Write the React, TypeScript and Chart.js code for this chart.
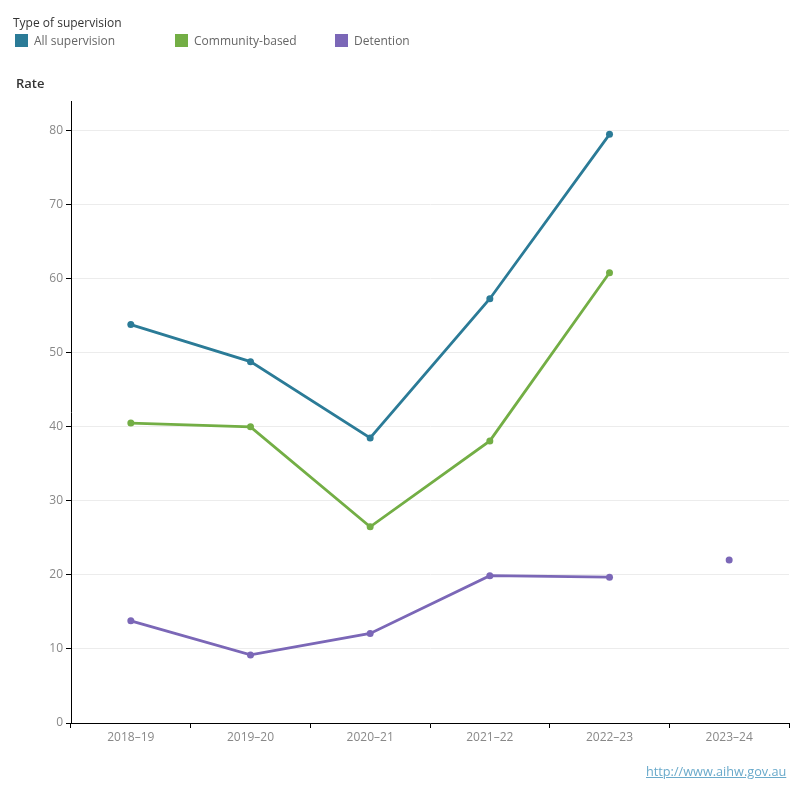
import React, { useEffect, useRef } from "react";
import { Chart, registerables } from "chart.js";

Chart.register(...registerables);

const years = ["2018–19", "2019–20", "2020–21", "2021–22", "2022–23", "2023–24"];
const allSupervision = [53.8, 48.8, 38.5, 57.3, 79.5, null];
const communityBased = [40.5, 40.0, 26.5, 38.1, 60.8, null];
const detention = [13.8, 9.2, 12.1, 19.9, 19.7, 22.0];
const yTicks = [0, 10, 20, 30, 40, 50, 60, 70, 80];

const seriesNames = ["All supervision", "Community-based", "Detention"];
const seriesColors = ["#2b7b97", "#73ae45", "#7b67b7"];

const FONT = "'Open Sans', 'Noto Sans', sans-serif";

export default function App() {
  const canvasRef = useRef<HTMLCanvasElement | null>(null);

  useEffect(() => {
    const canvas = canvasRef.current;
    if (!canvas) return;
    // Detention has a break before 2023–24: the last point is drawn on its own
    const mk = (label: string, data: (number | null)[], color: string, breakAt?: number) => ({
      label,
      data,
      borderColor: color,
      backgroundColor: color,
      borderWidth: 2.8,
      pointRadius: 3.5,
      pointHoverRadius: 3.5,
      pointBorderWidth: 0,
      tension: 0,
      spanGaps: false,
      segment: breakAt !== undefined
        ? { borderColor: (ctx: any) => (ctx.p1DataIndex === breakAt ? "rgba(0,0,0,0)" : color) }
        : undefined,
    });
    const chart = new Chart(canvas, {
      type: "line",
      data: {
        labels: years,
        datasets: [
          mk(seriesNames[0], allSupervision, seriesColors[0]),
          mk(seriesNames[1], communityBased, seriesColors[1]),
          mk(seriesNames[2], detention, seriesColors[2], 5),
        ],
      },
      options: {
        animation: false,
        responsive: false,
        maintainAspectRatio: false,
        layout: { padding: { top: 101, right: 11, left: 0, bottom: 0 } },
        plugins: { legend: { display: false }, tooltip: { enabled: false } },
        scales: {
          x: {
            offset: true,
            grid: {
              offset: true,
              drawOnChartArea: false,
              tickLength: 5,
              tickColor: "#000",
            },
            border: { color: "#000", width: 1 },
            ticks: {
              color: "#888",
              font: { family: FONT, size: 12 },
              padding: 2,
              maxRotation: 0,
            },
            afterFit: (scale: any) => {
              scale.height = 77;
            },
          },
          y: {
            min: 0,
            max: 84,
            afterBuildTicks: (scale: any) => {
              scale.ticks = yTicks.map((v) => ({ value: v }));
            },
            grid: {
              color: "#ececec",
              tickLength: 5,
              tickColor: "#000",
            },
            border: { color: "#000", width: 1 },
            ticks: {
              color: "#888",
              font: { family: FONT, size: 12 },
              padding: 3,
            },
            afterFit: (scale: any) => {
              scale.width = 71;
            },
          },
        },
      },
    });
    return () => chart.destroy();
  }, []);

  return (
    <div
      style={{
        position: "fixed",
        left: 0,
        top: 0,
        width: 800,
        height: 800,
        background: "#fff",
        fontFamily: FONT,
      }}
    >
      <canvas ref={canvasRef} width={800} height={800} style={{ position: "absolute", left: 0, top: 0 }} />
      <div style={{ position: "absolute", left: 13, top: 14, fontSize: 12, color: "#333" }}>
        Type of supervision
      </div>
      {seriesNames.map((name, i) => (
        <div
          key={name}
          style={{
            position: "absolute",
            left: 15 + i * 160,
            top: 32,
            display: "flex",
            alignItems: "center",
            fontSize: 12,
            color: "#666",
          }}
        >
          <span style={{ display: "inline-block", width: 13, height: 13, background: seriesColors[i], marginRight: 6 }} />
          {name}
        </div>
      ))}
      <div style={{ position: "absolute", left: 16, top: 74, fontSize: 13, fontWeight: 600, color: "#333" }}>
        Rate
      </div>
      <a
        href="http://www.aihw.gov.au"
        style={{ position: "absolute", left: 646, top: 762, fontSize: 12.7, color: "#6aaacb", textDecoration: "underline" }}
      >
        http://www.aihw.gov.au
      </a>
    </div>
  );
}
